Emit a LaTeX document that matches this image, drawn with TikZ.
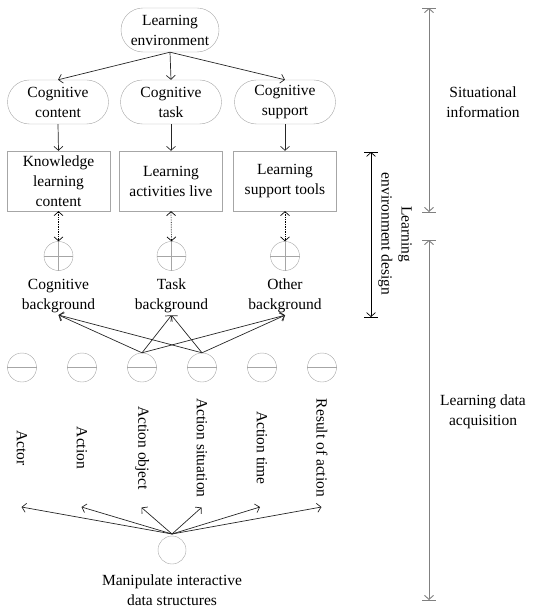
\documentclass[tikz,border=0pt]{standalone}
\usepackage{fontspec}
\setmainfont{Liberation Serif}
\usetikzlibrary{arrows.meta,shapes.misc}
\definecolor{nodegray}{HTML}{A6A6A6}
\definecolor{bargray}{HTML}{808080}
\definecolor{linegray}{HTML}{262626}
\begin{document}
\begin{tikzpicture}[x=1pt,y=-1pt,
  font=\fontsize{15.5}{20}\selectfont,
  tip/.style={-{Straight Barb[length=4pt,width=9pt]}},
  dtip/.style={{Straight Barb[length=4pt,width=9pt]}-{Straight Barb[length=4pt,width=9pt]}},
  stad/.style={draw=nodegray, rounded rectangle, minimum height=44pt, minimum width=103pt, inner sep=1pt, align=center},
  boxn/.style={draw=nodegray, rectangle, minimum height=60pt, minimum width=103pt, inner sep=0pt, align=center},
  circn/.style={draw=nodegray, circle, minimum size=29pt, inner sep=0pt},
  lbl/.style={align=center, inner sep=2pt},
  vlbl/.style={rotate=-90, inner sep=1pt},
  conn/.style={tip, draw=linegray, line width=0.7pt},
  bar/.style={draw=bargray, line width=0.9pt},
  barb/.style={draw=black, line width=0.7pt}
]
\useasboundingbox (0,0) rectangle (537,612);

% top tree
\node[stad, minimum width=100pt] (env) at (170,30) {Learning\\environment};
\node[stad] (cc) at (58,102) {Cognitive\\content};
\node[stad] (ct) at (171,102) {Cognitive\\task};
\node[stad] (cs) at (285,102) {Cognitive\\support};

\node[boxn] (k) at (58.5,181) {Knowledge\\learning\\content};
\node[boxn] (la) at (171,181) {Learning\\activities live};
\node[boxn] (ls) at (285,181) {Learning\\support tools};

\draw[conn] (env.south) -- (cc.north);
\draw[conn] (env.south) -- (ct.north);
\draw[conn] (env.south) -- (cs.north);
\draw[conn] (cc.south) -- (k.north);
\draw[conn] (ct.south) -- (la.north);
\draw[conn] (cs.south) -- (ls.north);

% plus circles
\node[circn] (p1) at (58.5,256) {};
\node[circn] (p2) at (171.5,256) {};
\node[circn] (p3) at (285,256) {};
\foreach \c in {p1,p2,p3}{
  \draw[nodegray] (\c.north) -- (\c.south) (\c.west) -- (\c.east);
}
\draw[dtip, densely dotted, line width=0.7pt] (k.south) -- (p1.north);
\draw[dtip, densely dotted, line width=0.7pt] (la.south) -- (p2.north);
\draw[dtip, densely dotted, line width=0.7pt] (ls.south) -- (p3.north);

% background labels
\node[lbl] (bg1) at (58.5,296) {Cognitive\\background};
\node[lbl] (bg2) at (171.5,296) {Task\\background};
\node[lbl] (bg3) at (285,296) {Other\\background};

% minus circles
\foreach \i/\x in {1/22,2/82,3/142,4/202,5/262,6/322}{
  \node[circn] (m\i) at (\x,367.5) {};
  \draw[nodegray] (m\i.west) -- (m\i.east);
}

\foreach \s in {m3,m4}{
  \foreach \t in {bg1,bg2,bg3}{
    \draw[conn] (\s.north) -- (\t.south);
  }
}

% rotated labels
\node[vlbl] (t1) at (22,448) {Actor};
\node[vlbl] (t2) at (82,448) {Action};
\node[vlbl] (t3) at (142,448) {Action object};
\node[vlbl] (t4) at (202,448) {Action situation};
\node[vlbl] (t5) at (262,448) {Action time};
\node[vlbl] (t6) at (322,448) {Result of action};

\coordinate (a1) at (21.5,507);
\coordinate (a2) at (81.5,507);
\coordinate (a3) at (141.5,507.5);
\coordinate (a4) at (201.5,507.5);
\coordinate (a5) at (260,507);
\coordinate (a6) at (321.5,507);

\node[circn, minimum size=28pt] (mi) at (172,550) {};
\coordinate (mo) at (172,534);
\foreach \i in {1,...,6}{
  \draw[conn] (mo) -- (a\i);
}
\node[lbl] (ml) at (172,590) {Manipulate interactive\\data structures};

% right brackets
\coordinate (b1t) at (429,8);
\coordinate (b1b) at (429,212);
\draw[bar, dtip] (b1t) -- (b1b);
\draw[bar] ([xshift=-7pt]b1t) -- ([xshift=7pt]b1t);
\draw[bar] ([xshift=-7pt]b1b) -- ([xshift=7pt]b1b);
\node[lbl] (si) at (483,102) {Situational\\information};

\coordinate (b2t) at (371,152);
\coordinate (b2b) at (371,317);
\draw[barb, dtip] (b2t) -- (b2b);
\draw[barb] ([xshift=-7pt]b2t) -- ([xshift=7pt]b2t);
\draw[barb] ([xshift=-7pt]b2b) -- ([xshift=7pt]b2b);
\node[vlbl, align=center] (led) at (395,234) {Learning\\environment design};

\coordinate (b3t) at (429,240);
\coordinate (b3b) at (429,600);
\draw[bar, dtip] (b3t) -- (b3b);
\draw[bar] ([xshift=-7pt]b3t) -- ([xshift=7pt]b3t);
\draw[bar] ([xshift=-7pt]b3b) -- ([xshift=7pt]b3b);
\node[lbl] (lda) at (483,412) {Learning data\\acquisition};
\end{tikzpicture}
\end{document}
